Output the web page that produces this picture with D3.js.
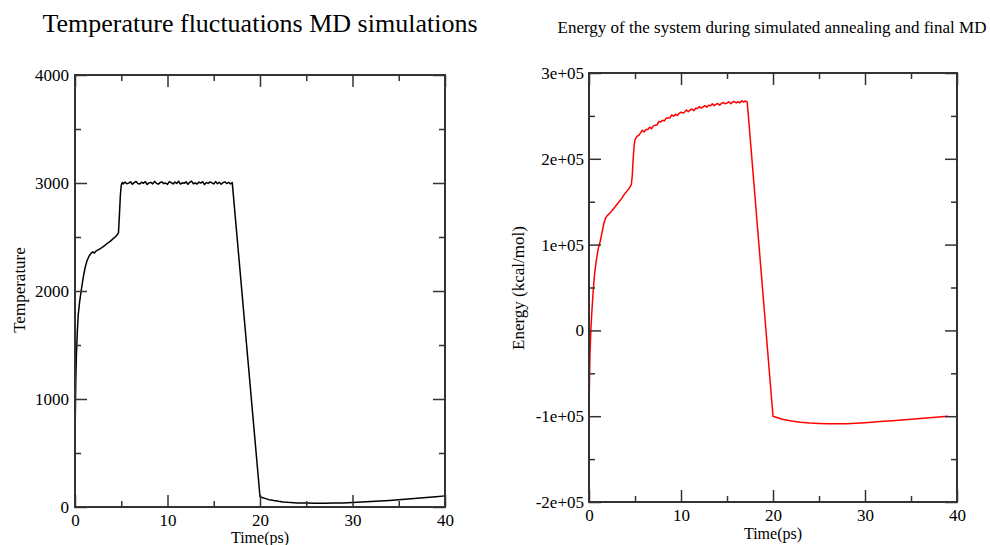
<!DOCTYPE html>
<html>
<head>
<meta charset="utf-8">
<script src="https://cdn.jsdelivr.net/npm/d3@7"></script>
<style>
body { margin: 0; background: #fff; }
svg { display: block; font-family: "Liberation Serif", "Times New Roman", serif; }
</style>
</head>
<body>
<svg id="chart" width="990" height="545"></svg>
<script>
const FONT = "'Liberation Serif', 'Times New Roman', serif";

const timeTicks = [0, 10, 20, 30, 40];
const timeMinor = [5, 15, 25, 35];
const tempTicks = [0, 1000, 2000, 3000, 4000];
const tempMinor = [500, 1500, 2500, 3500];
const energyTicks = [-200000, -100000, 0, 100000, 200000, 300000];
const energyMinor = [-150000, -50000, 50000, 150000, 250000];
const energyLabels = ["-2e+05", "-1e+05", "0", "1e+05", "2e+05", "3e+05"];

// [time (ps), temperature]
const temperature = [
    [0, 250], [0.03, 800], [0.08, 1150], [0.15, 1400], [0.25, 1620], [0.35, 1780], [0.5, 1900],
    [0.7, 2020], [0.9, 2130], [1.1, 2220], [1.3, 2280], [1.5, 2320], [1.7, 2345], [1.9, 2362],
    [2.1, 2352], [2.3, 2372], [2.6, 2385], [2.9, 2402], [3.2, 2420], [3.5, 2442], [3.8, 2460],
    [4.1, 2482], [4.4, 2505], [4.6, 2525], [4.7, 2540], [4.8, 2700], [4.9, 2880], [5.0, 2980],
    [5.1, 3005], [5.2, 2992], [5.4, 3008], [5.6, 2993], [5.8, 2999], [6.0, 3011], [6.2, 2988],
    [6.4, 3003], [6.6, 3014], [6.8, 2995], [7.0, 2990], [7.2, 3007], [7.4, 2998], [7.6, 3012],
    [7.8, 2986], [8.0, 3001], [8.2, 3006], [8.4, 2992], [8.6, 3015], [8.8, 2997], [9.0, 2989],
    [9.2, 3004], [9.4, 3010], [9.6, 2994], [9.8, 3000], [10.0, 2987], [10.2, 3013], [10.4, 3003],
    [10.6, 2991], [10.8, 3008], [11.0, 2996], [11.2, 3016], [11.4, 2990], [11.6, 3002], [11.8, 2997],
    [12.0, 3011], [12.2, 2988], [12.4, 3006], [12.6, 3018], [12.8, 2993], [13.0, 3000], [13.2, 2990],
    [13.4, 3009], [13.6, 2999], [13.8, 3012], [14.0, 2985], [14.2, 3004], [14.4, 2996], [14.6, 3010],
    [14.8, 3001], [15.0, 2991], [15.2, 3013], [15.4, 2994], [15.6, 3006], [15.8, 2988], [16.0, 3003],
    [16.2, 3011], [16.4, 2995], [16.6, 3007], [16.8, 2992], [17.0, 3004],
    [20.0, 95], [20.3, 85], [20.7, 75], [21, 68], [21.5, 60], [22, 53], [22.5, 47], [23, 43],
    [24, 38], [25, 36], [26, 35], [27, 35], [28, 36], [29, 38], [30, 42], [31, 46], [32, 51],
    [33, 56], [34, 61], [35, 67], [36, 73], [37, 80], [38, 87], [39, 95], [40, 103]
];

// [time (ps), energy (kcal/mol)]
const energy = [
    [0, -92000], [0.05, -60000], [0.1, -30000], [0.2, 0], [0.3, 20000], [0.45, 45000], [0.6, 65000],
    [0.8, 82000], [1.0, 95000], [1.2, 103000], [1.4, 113000], [1.6, 124000], [1.8, 131000],
    [2.0, 134000], [2.3, 137000], [2.6, 141000], [2.9, 145000], [3.2, 149000], [3.5, 153000],
    [3.8, 158000], [4.1, 162000], [4.4, 166000], [4.6, 170000], [4.7, 180000], [4.8, 200000],
    [4.9, 215000], [5.0, 222000], [5.2, 226000], [5.4, 227200], [5.6, 230300], [5.8, 233300],
    [6.0, 231300], [6.2, 234100], [6.4, 234200], [6.6, 236900], [6.8, 235000], [7.0, 238400],
    [7.2, 239200], [7.4, 239500], [7.6, 243600], [7.8, 243000], [8.0, 244900], [8.2, 244200],
    [8.4, 247600], [8.6, 247500], [8.8, 247600], [9.0, 251200], [9.2, 249600], [9.4, 251800],
    [9.6, 250400], [9.8, 253000], [10.0, 254400], [10.2, 253300], [10.4, 254500], [10.6, 256900],
    [10.8, 254900], [11.0, 256900], [11.2, 258100], [11.4, 256200], [11.6, 259000], [11.8, 258600],
    [12.0, 260800], [12.2, 259100], [12.4, 260600], [12.6, 262000], [12.8, 260200], [13.0, 262500],
    [13.2, 261900], [13.4, 264000], [13.6, 262000], [13.8, 263500], [14.0, 264400], [14.2, 262400],
    [14.4, 264600], [14.6, 265600], [14.8, 264200], [15.0, 264900], [15.2, 266400], [15.4, 264100],
    [15.6, 266100], [15.8, 266700], [16.0, 265200], [16.2, 266500], [16.4, 265200], [16.6, 267500],
    [16.8, 266200], [17.0, 267400], [17.2, 266000],
    [20.0, -100000], [21, -103500], [22, -105500], [23, -107000], [24, -108000], [25, -108500],
    [26, -108800], [27, -108800], [28, -108700], [29, -108200], [30, -107500], [31, -106800],
    [32, -106000], [33, -105200], [34, -104300], [35, -103500], [36, -102600], [37, -101800],
    [38, -101000], [39, -100200]
];

const svg = d3.select("#chart");

function addAxis(g, axisFn, scale, transform, major, minor, fmt, pad) {
    g.append("g")
        .attr("transform", transform)
        .call(axisFn(scale).tickValues(minor).tickSize(-6).tickFormat(""));
    g.append("g")
        .attr("transform", transform)
        .call(axisFn(scale).tickValues(major).tickSize(-12).tickPadding(pad).tickFormat(fmt || ""));
}

function drawPanel(p) {
    const g = svg.append("g");
    const x = d3.scaleLinear().domain([0, 40]).range([p.left, p.right]);
    const y = d3.scaleLinear().domain(p.yDomain).range([p.bottom, p.top]);

    const line = d3.line()
        .x(d => x(d[0]))
        .y(d => y(d[1]));

    g.append("path")
        .datum(p.data)
        .attr("fill", "none")
        .attr("stroke", p.color)
        .attr("stroke-width", 1.5)
        .attr("stroke-linejoin", "round")
        .attr("d", line);

    addAxis(g, d3.axisBottom, x, `translate(0,${p.bottom})`, timeTicks, timeMinor, d => d, 7);
    addAxis(g, d3.axisTop, x, `translate(0,${p.top})`, timeTicks, timeMinor, null, 0);
    addAxis(g, d3.axisLeft, y, `translate(${p.left},0)`, p.yTicks, p.yMinor, p.yFormat, p.yPad);
    addAxis(g, d3.axisRight, y, `translate(${p.right},0)`, p.yTicks, p.yMinor, null, 0);

    g.selectAll(".domain").remove();
    g.selectAll(".tick line").attr("stroke", "#333").attr("stroke-width", 1.5);
    g.selectAll(".tick text")
        .attr("font-family", FONT)
        .attr("font-size", 17)
        .attr("fill", "#000");

    g.append("rect")
        .attr("x", p.left)
        .attr("y", p.top)
        .attr("width", p.right - p.left)
        .attr("height", p.bottom - p.top)
        .attr("fill", "none")
        .attr("stroke", "#333")
        .attr("stroke-width", 2);

    // labels
    g.append("text")
        .attr("x", p.titleX)
        .attr("y", p.titleY)
        .attr("text-anchor", "middle")
        .attr("font-family", FONT)
        .attr("font-size", p.titleSize)
        .text(p.title);

    g.append("text")
        .attr("x", (p.left + p.right) / 2)
        .attr("y", p.xLabelY)
        .attr("text-anchor", "middle")
        .attr("font-family", FONT)
        .attr("font-size", 16)
        .text("Time(ps)");

    g.append("text")
        .attr("transform", `translate(${p.yLabelX},${p.yLabelY}) rotate(-90)`)
        .attr("text-anchor", "middle")
        .attr("font-family", FONT)
        .attr("font-size", 17)
        .text(p.yLabel);
}

drawPanel({
    left: 75, right: 445, top: 75, bottom: 507,
    yDomain: [0, 4000], yTicks: tempTicks, yMinor: tempMinor, yFormat: d => d, yPad: 6,
    data: temperature, color: "#000",
    title: "Temperature fluctuations MD simulations", titleX: 260, titleY: 32, titleSize: 26,
    xLabelY: 543, yLabel: "Temperature", yLabelX: 25, yLabelY: 290
});

drawPanel({
    left: 589, right: 957, top: 73, bottom: 502,
    yDomain: [-200000, 300000], yTicks: energyTicks, yMinor: energyMinor,
    yFormat: (d, i) => energyLabels[i], yPad: 5,
    data: energy, color: "#ff0000",
    title: "Energy of the system during simulated annealing and final MD", titleX: 772, titleY: 33, titleSize: 17,
    xLabelY: 539, yLabel: "Energy (kcal/mol)", yLabelX: 524, yLabelY: 288
});
</script>
</body>
</html>
